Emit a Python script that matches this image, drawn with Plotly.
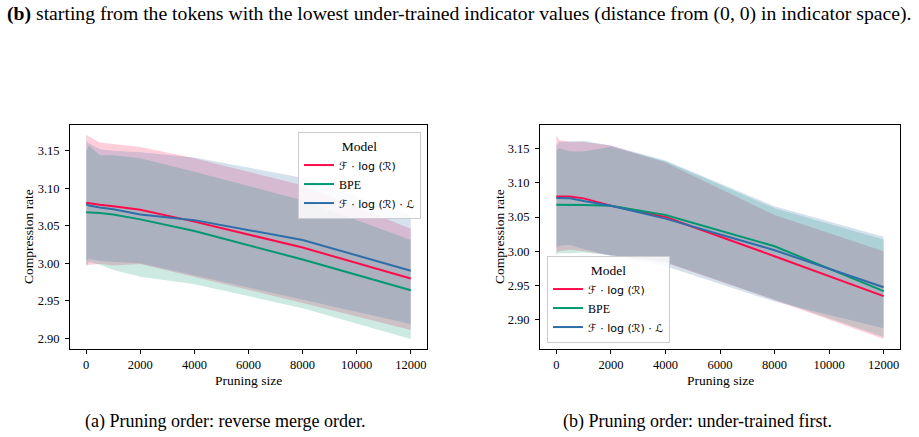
import plotly.graph_objects as go

# ---------------- data ----------------
sizes = [0, 100, 500, 1000, 2000, 4000, 8000, 12000]
x_ticks = [0, 2000, 4000, 6000, 8000, 10000, 12000]
y_ticks = [2.90, 2.95, 3.00, 3.05, 3.10, 3.15]

series_names = ["ℱ·log(ℛ)", "BPE", "ℱ·log(ℛ)·ℒ"]

# (a) reverse merge order
a_red_mean = [3.0807, 3.080, 3.078, 3.076, 3.0715, 3.0555, 3.021, 2.9795]
a_red_up = [3.171, 3.169, 3.161, 3.159, 3.155, 3.140, 3.104, 3.046]
a_red_lo = [2.997, 2.998, 2.999, 2.997, 2.999, 2.981, 2.947, 2.911]
a_bpe_mean = [3.068, 3.068, 3.067, 3.065, 3.0585, 3.043, 3.005, 2.964]
a_bpe_up = [3.150, 3.157, 3.144, 3.144, 3.140, 3.122, 3.084, 3.031]
a_bpe_lo = [2.996, 3.002, 2.998, 2.991, 2.982, 2.972, 2.940, 2.899]
a_blue_mean = [3.079, 3.077, 3.0745, 3.072, 3.065, 3.0575, 3.031, 2.990]
a_blue_up = [3.163, 3.160, 3.152, 3.150, 3.148, 3.141, 3.114, 3.064]
a_blue_lo = [3.003, 3.006, 3.003, 3.002, 3.000, 2.983, 2.951, 2.919]

# (b) under-trained first
b_red_mean = [3.0803, 3.0802, 3.080, 3.0774, 3.0667, 3.050, 2.9926, 2.934]
b_red_up = [3.170, 3.163, 3.160, 3.160, 3.155, 3.130, 3.053, 3.000]
b_red_lo = [2.998, 3.000, 3.002, 3.000, 2.995, 2.983, 2.928, 2.871]
b_bpe_mean = [3.068, 3.068, 3.068, 3.0676, 3.0667, 3.053, 3.0072, 2.9414]
b_bpe_up = [3.148, 3.151, 3.146, 3.146, 3.153, 3.132, 3.063, 3.017]
b_bpe_lo = [2.994, 2.997, 2.997, 2.998, 2.994, 2.984, 2.929, 2.874]
b_blue_mean = [3.078, 3.078, 3.0774, 3.0735, 3.0667, 3.0477, 3.0014, 2.947]
b_blue_up = [3.155, 3.160, 3.161, 3.162, 3.155, 3.133, 3.066, 3.021]
b_blue_lo = [3.006, 3.008, 3.009, 3.003, 2.993, 2.978, 2.926, 2.887]

colors = ["#ff0a4a", "#009870", "#2d6ea8"]
fills = ["rgba(255,10,74,0.2)", "rgba(0,152,112,0.2)", "rgba(45,110,168,0.2)"]

panels = [
    dict(xa="x", ya="y", leg="legend",
         means=[a_red_mean, a_bpe_mean, a_blue_mean],
         ups=[a_red_up, a_bpe_up, a_blue_up],
         los=[a_red_lo, a_bpe_lo, a_blue_lo]),
    dict(xa="x2", ya="y2", leg="legend2",
         means=[b_red_mean, b_bpe_mean, b_blue_mean],
         ups=[b_red_up, b_bpe_up, b_blue_up],
         los=[b_red_lo, b_bpe_lo, b_blue_lo]),
]

SANS = "DejaVu Sans"
SERIF = "Liberation Serif"


def legend_label(name):
    if name == "BPE":
        return "BPE"
    parts = name.replace("·", " · ").replace("log(", "log (")
    return f"<span style='font-family:{SANS};font-size:11px'>{parts}</span>"


fig = go.Figure()
for p in panels:
    for i in range(3):
        fig.add_trace(go.Scatter(
            x=sizes + sizes[::-1], y=p["ups"][i] + p["los"][i][::-1],
            fill="toself", fillcolor=fills[i], mode="lines",
            line=dict(width=0), hoverinfo="skip", showlegend=False,
            xaxis=p["xa"], yaxis=p["ya"]))
    for i in range(3):
        fig.add_trace(go.Scatter(
            x=sizes, y=p["means"][i], mode="lines",
            line=dict(color=colors[i], width=2),
            name=legend_label(series_names[i]),
            legend=p["leg"], xaxis=p["xa"], yaxis=p["ya"]))

W, H = 919, 437
axis_common = dict(showline=True, mirror=True, linecolor="black", linewidth=1,
                   ticks="outside", ticklen=4, tickwidth=1, tickcolor="black",
                   showgrid=False, zeroline=False,
                   tickfont=dict(family=SERIF, size=12.5, color="black"))
x_ticktext = [str(v) for v in x_ticks]

fig.update_layout(
    width=W, height=H, margin=dict(l=0, r=0, t=0, b=0),
    paper_bgcolor="white", plot_bgcolor="white",
    font=dict(family=SERIF, color="black"),
    xaxis=dict(domain=[70 / W, 427 / W], range=[-600, 12600], tickvals=x_ticks,
               ticktext=x_ticktext, anchor="y", **axis_common),
    yaxis=dict(domain=[1 - 349 / H, 1 - 125 / H], range=[2.8855, 3.1845],
               tickvals=y_ticks, tickformat=".2f", anchor="x",
               ticklabelstandoff=3, **axis_common),
    xaxis2=dict(domain=[540 / W, 900 / W], range=[-600, 12600], tickvals=x_ticks,
                ticktext=x_ticktext, anchor="y2", **axis_common),
    yaxis2=dict(domain=[1 - 349 / H, 1 - 125 / H], range=[2.8565, 3.185],
                tickvals=y_ticks, tickformat=".2f", anchor="x2",
                ticklabelstandoff=3, **axis_common),
    legend=dict(x=421 / W, y=1 - 132 / H, xanchor="right", yanchor="top",
                bgcolor="rgba(255,255,255,0.85)", bordercolor="#cccccc",
                borderwidth=1, font=dict(family=SERIF, size=12),
                tracegroupgap=0, itemwidth=30,
                title=dict(text="Model", side="top center",
                           font=dict(family=SERIF, size=13.5))),
    legend2=dict(x=547 / W, y=1 - 343 / H, xanchor="left", yanchor="bottom",
                 bgcolor="rgba(255,255,255,0.85)", bordercolor="#cccccc",
                 borderwidth=1, font=dict(family=SERIF, size=12),
                 tracegroupgap=0, itemwidth=30,
                 title=dict(text="Model", side="top center",
                            font=dict(family=SERIF, size=13.5))),
)

ann = []
# axis titles
for xc, yl in [((70 + 427) / 2, 28), ((540 + 900) / 2, 499)]:
    ann.append(dict(text="Pruning size", x=xc / W, y=1 - 380 / H, xref="paper", yref="paper",
                    xanchor="center", yanchor="middle",
                    showarrow=False, font=dict(family=SERIF, size=13.5)))
    ann.append(dict(text="Compression rate", x=yl / W, y=1 - 237 / H, xref="paper", yref="paper",
                    xanchor="center", yanchor="middle",
                    showarrow=False, textangle=-90, font=dict(family=SERIF, size=13.5)))
# captions
ann.append(dict(text="(a) Pruning order: reverse merge order.", x=225 / W, y=1 - 421 / H,
                xref="paper", yref="paper", xanchor="center", yanchor="middle",
                showarrow=False, font=dict(family=SERIF, size=18)))
ann.append(dict(text="(b) Pruning order: under-trained first.", x=697 / W, y=1 - 421 / H,
                xref="paper", yref="paper", xanchor="center", yanchor="middle",
                showarrow=False, font=dict(family=SERIF, size=18)))
# top text
ann.append(dict(text="<b>(b)</b> starting from the tokens with the lowest under-trained indicator values (distance from (0, 0) in indicator space).",
                x=459 / W, y=1 - 13 / H, xref="paper", yref="paper", showarrow=False,
                xanchor="center", yanchor="middle",
                font=dict(family=SERIF, size=19.7)))
fig.update_layout(annotations=ann)

fig.write_html("out.html")
